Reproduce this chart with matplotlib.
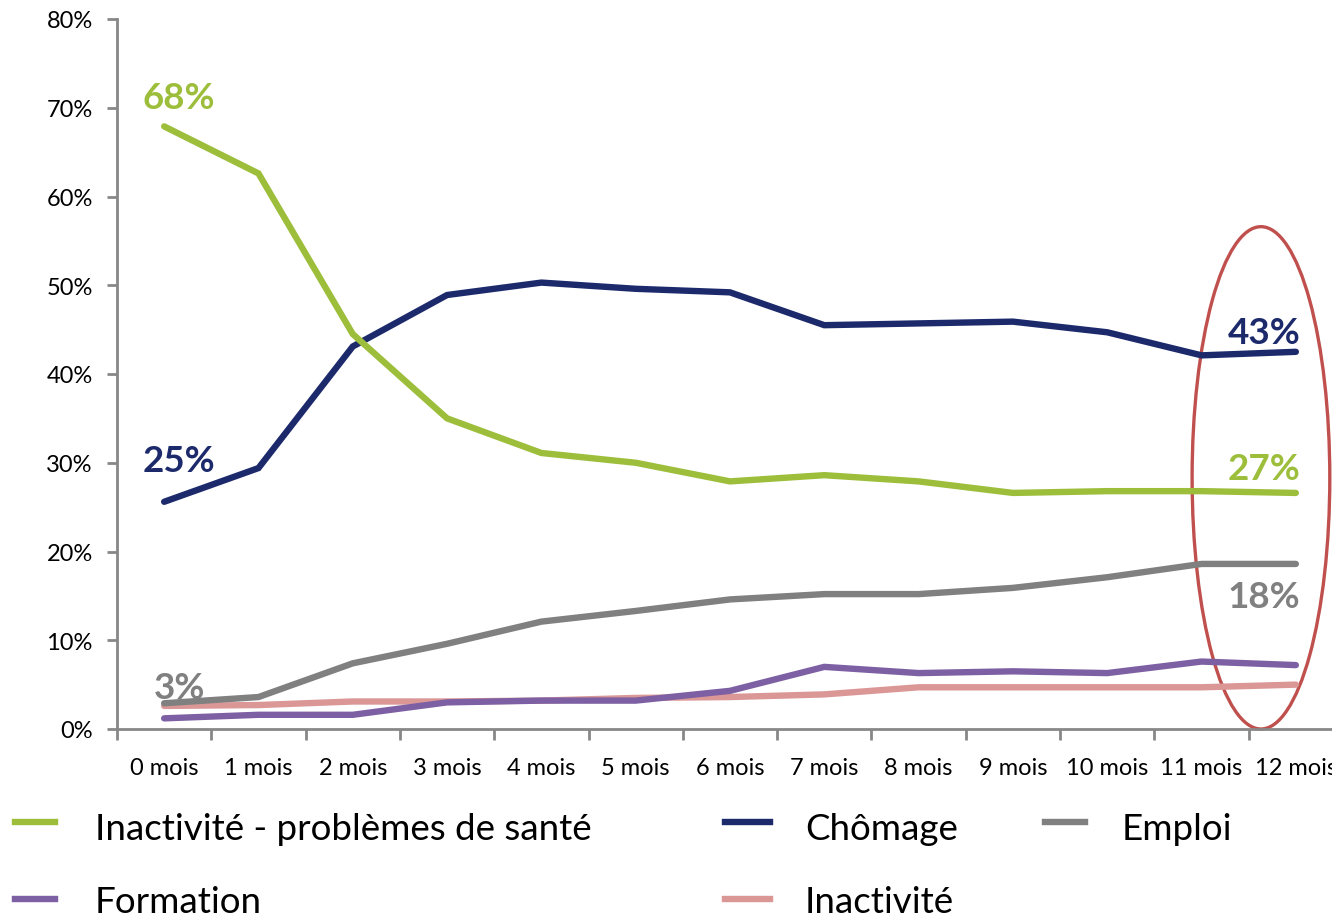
import matplotlib
matplotlib.use("Agg")
import matplotlib.pyplot as plt
from matplotlib.lines import Line2D
from matplotlib.patches import Ellipse
from matplotlib.ticker import FuncFormatter

plt.rcParams['font.family'] = ['Lato', 'DejaVu Sans']

categories = ["0 mois", "1 mois", "2 mois", "3 mois", "4 mois", "5 mois", "6 mois",
              "7 mois", "8 mois", "9 mois", "10 mois", "11 mois", "12 mois"]
sante = [67.9, 62.6, 44.5, 35.0, 31.1, 30.0, 27.9, 28.6, 27.9, 26.6, 26.8, 26.8, 26.6]
chomage = [25.6, 29.4, 43.1, 48.9, 50.3, 49.6, 49.2, 45.5, 45.7, 45.9, 44.7, 42.1, 42.5]
emploi = [2.9, 3.6, 7.4, 9.6, 12.1, 13.3, 14.6, 15.2, 15.2, 15.9, 17.1, 18.6, 18.6]
formation = [1.2, 1.6, 1.6, 3.0, 3.2, 3.2, 4.3, 7.0, 6.3, 6.5, 6.3, 7.6, 7.2]
inactivite = [2.6, 2.7, 3.1, 3.1, 3.2, 3.5, 3.6, 3.9, 4.7, 4.7, 4.7, 4.7, 5.0]
yticks = [0, 10, 20, 30, 40, 50, 60, 70, 80]
start_labels = {"sante": "68%", "chomage": "25%", "emploi": "3%"}
end_labels = {"chomage": "43%", "sante": "27%", "emploi": "18%"}

C_SANTE = "#9DBE3B"
C_CHOM = "#1C2A6C"
C_EMP = "#808080"
C_FORM = "#7D60A3"
C_INAC = "#DA9796"
C_AXIS = "#878787"

W, H = 1332, 920
fig = plt.figure(figsize=(W / 100, H / 100), dpi=100)
ax = fig.add_axes([117 / W, 1 - 730 / H, (1343 - 117) / W, (730 - 20) / H])

x = list(range(len(categories)))
lw = 4.6
series = [
    (inactivite, C_INAC),
    (formation, C_FORM),
    (emploi, C_EMP),
    (chomage, C_CHOM),
    (sante, C_SANTE),
]
for vals, col in series:
    ax.plot(x, vals, color=col, lw=lw, solid_capstyle='round', solid_joinstyle='miter')

ax.set_xlim(-0.5, len(categories) - 0.5)
ax.set_ylim(0, 80)

for s in ["top", "right"]:
    ax.spines[s].set_visible(False)
for s in ["left", "bottom"]:
    ax.spines[s].set_color(C_AXIS)
    ax.spines[s].set_linewidth(2.0)

ax.set_yticks(yticks)
ax.yaxis.set_major_formatter(FuncFormatter(lambda v, p: f"{int(v)}%"))
ax.tick_params(axis='y', direction='out', length=7.5, width=2.0, color=C_AXIS,
               labelsize=17, pad=10, labelcolor='black')

ax.set_xticks([i - 0.5 for i in x] + [len(categories) - 0.5])
ax.set_xticklabels([])
ax.set_xticks(x, minor=True)
ax.set_xticklabels(categories, minor=True)
ax.tick_params(axis='x', which='major', direction='out', length=8, width=2.0, color=C_AXIS)
ax.tick_params(axis='x', which='minor', length=0, labelsize=17, pad=20, labelcolor='black')

# data labels
lab_kw = dict(fontsize=26.5, fontweight='bold', ha='center', va='center')
ax.text(0.16, 71.2, start_labels["sante"], color=C_SANTE, **lab_kw)
ax.text(0.16, 30.2, start_labels["chomage"], color=C_CHOM, **lab_kw)
ax.text(0.16, 4.7, start_labels["emploi"], color=C_EMP, **lab_kw)
ax.text(11.66, 44.7, end_labels["chomage"], color=C_CHOM, **lab_kw)
ax.text(11.66, 29.4, end_labels["sante"], color=C_SANTE, **lab_kw)
ax.text(11.66, 14.9, end_labels["emploi"], color=C_EMP, **lab_kw)

# highlight ellipse
ell = Ellipse((11.63, 28.3), 1.46, 56.6, fill=False, edgecolor="#C0504D", lw=2.4, clip_on=False)
ax.add_patch(ell)

# legend (manual)
legend_items = [
    ("Inactivité - problèmes de santé", C_SANTE, 15, 55, 95, 823, 7),
    ("Chômage", C_CHOM, 725, 770, 805, 823, 7),
    ("Emploi", C_EMP, 1045, 1085, 1122, 823, 7),
    ("Formation", C_FORM, 15, 55, 95, 900, 3),
    ("Inactivité", C_INAC, 725, 770, 805, 900, 3),
]
for label, col, x0, x1, tx, yy, dy in legend_items:
    fig.add_artist(Line2D([x0 / W, x1 / W], [1 - yy / H, 1 - yy / H], color=col, lw=4.6,
                          transform=fig.transFigure))
    fig.text(tx / W, 1 - (yy + dy) / H, label, fontsize=26.5, va='center', ha='left', color='black')

fig.savefig("out.png", dpi=100)
